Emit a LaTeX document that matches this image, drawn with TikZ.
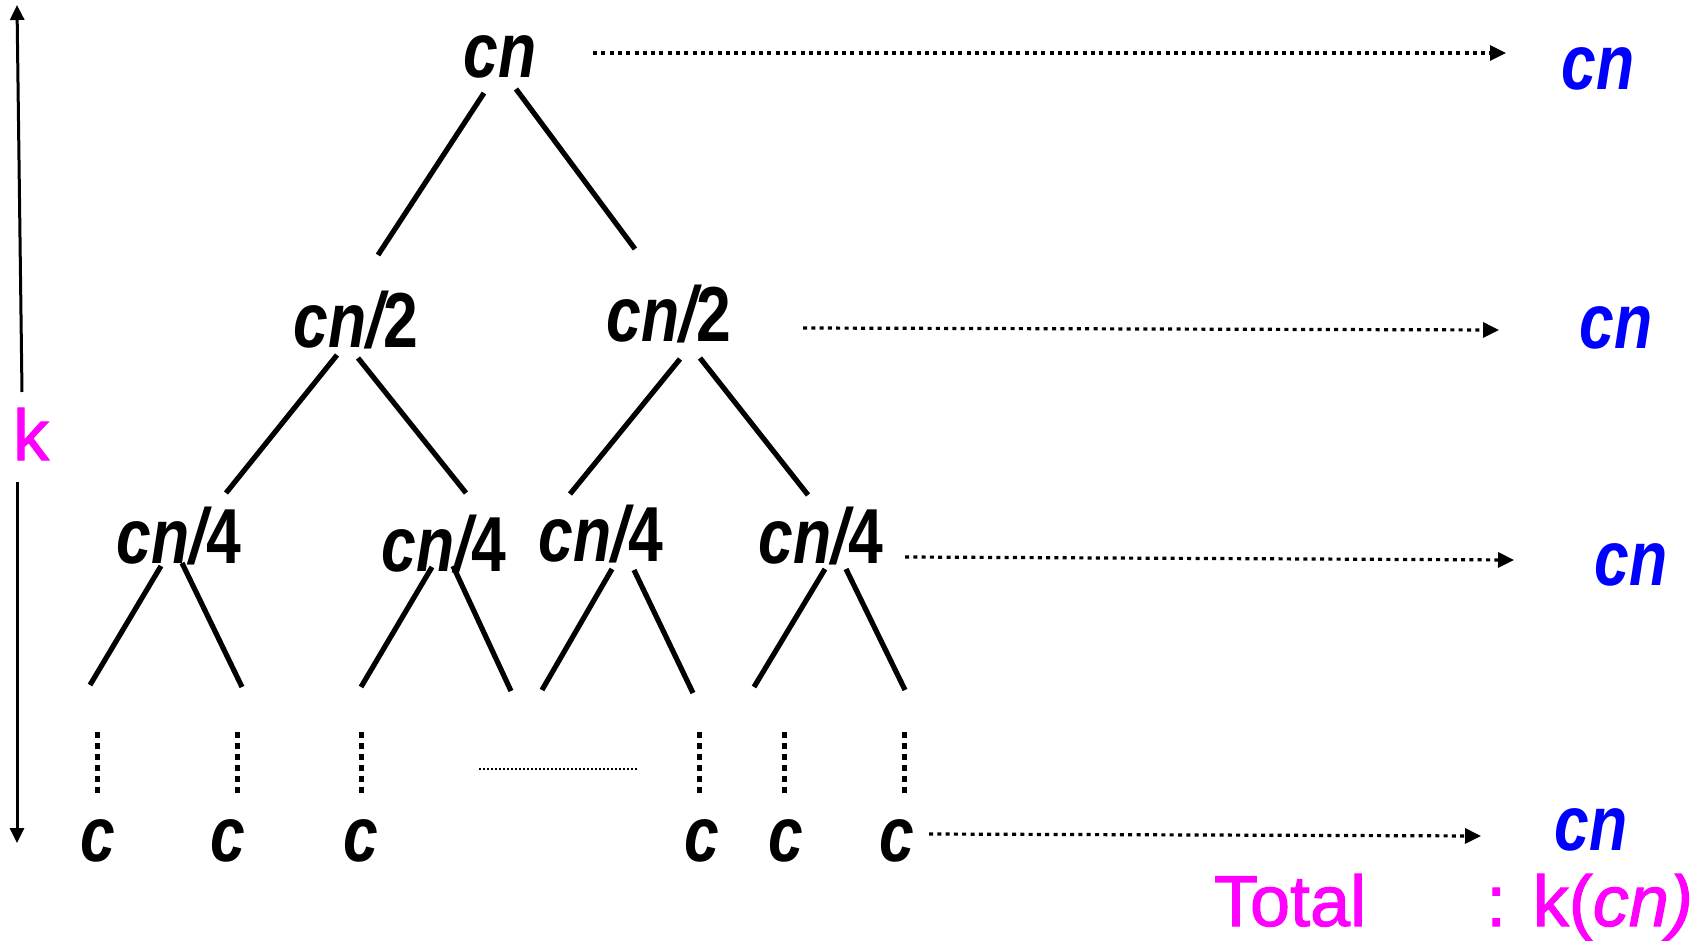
\documentclass[tikz,border=0pt]{standalone}
\usepackage{fontspec}
\setmainfont{Liberation Sans}
\newfontfamily\heavysans[FakeBold=1.5]{Liberation Sans}
\usetikzlibrary{arrows.meta}
\definecolor{mag}{RGB}{255,0,255}
\definecolor{blu}{RGB}{0,0,255}
% condensed italic labels of the recursion tree
\newcommand\narrow[1]{\scalebox{0.8}[1]{\bfseries\itshape #1}}

\begin{document}
\begin{tikzpicture}[x=1pt,y=-1pt,
  lbl/.style={inner sep=0pt, anchor=base, font=\fontsize{78}{80}\selectfont},
  sum/.style={lbl, text=blu},
  pink/.style={inner sep=0pt, anchor=base, text=mag, font=\heavysans\fontsize{72}{74}\selectfont},
  edge/.style={line width=5.2pt},
  rowarrow/.style={line width=3.2pt, dash pattern=on 4pt off 4.3pt,
    -{Triangle[length=16pt,width=15pt]}},
  vdots/.style={line width=5pt, dash pattern=on 6pt off 5pt},
  hdots/.style={line width=1.6pt, dash pattern=on 2pt off 2pt},
  heightarrow/.style={line width=3pt, -{Triangle[length=15pt,width=14pt]}}]
\useasboundingbox (0,0) rectangle (1699,941);

% tree levels
\node[lbl] (root) at (500,78) {\narrow{cn}};
\node[lbl] (a) at (356,347) {\narrow{cn/\upshape 2}};
\node[lbl] (b) at (669,341) {\narrow{cn/\upshape 2}};
\node[lbl] (n1) at (179,563) {\narrow{cn/\upshape 4}};
\node[lbl] (n2) at (444,571) {\narrow{cn/\upshape 4}};
\node[lbl] (n3) at (601,561) {\narrow{cn/\upshape 4}};
\node[lbl] (n4) at (821,563) {\narrow{cn/\upshape 4}};
\node[lbl] (c1) at (98,861) {\narrow{c}};
\node[lbl] (c2) at (228,861) {\narrow{c}};
\node[lbl] (c3) at (361,861) {\narrow{c}};
\node[lbl] (c4) at (702,861) {\narrow{c}};
\node[lbl] (c5) at (786,861) {\narrow{c}};
\node[lbl] (c6) at (897,861) {\narrow{c}};

% per-level sums
\node[sum] (s1) at (1598,90) {\narrow{cn}};
\node[sum] (s2) at (1616,348) {\narrow{cn}};
\node[sum] (s3) at (1631,585) {\narrow{cn}};
\node[sum] (s4) at (1591,850) {\narrow{cn}};

% total and height
\node[pink] (total) at (1290,926) {Total};
\node[pink, anchor=base west] (result) at (1486,926) {: k(\textit{cn)}};
\node[pink] (k) at (31,460) {k};
\coordinate (ktop) at (17,5);
\coordinate (kbot) at (17,843);
\draw[heightarrow] ([shift={(-9,-68)}]k.base) -- (ktop);
\draw[heightarrow] ([shift={(-14,22)}]k.base) -- (kbot);

% tree edges
\draw[edge] ([shift={(-16,15)}]root.base) -- ([shift={(22,-92)}]a.base);
\draw[edge] ([shift={(16,11)}]root.base) -- ([shift={(-34,-92)}]b.base);
\draw[edge] ([shift={(-19,8)}]a.base) -- ([shift={(47,-70)}]n1.base);
\draw[edge] ([shift={(2,11)}]a.base) -- ([shift={(22,-78)}]n2.base);
\draw[edge] ([shift={(11,18)}]b.base) -- ([shift={(-31,-67)}]n3.base);
\draw[edge] ([shift={(31,17)}]b.base) -- ([shift={(-13,-68)}]n4.base);

% open branches below the last drawn level
\coordinate (l1) at (90,685);
\coordinate (l2) at (242,687);
\coordinate (l3) at (361,687);
\coordinate (l4) at (511,691);
\coordinate (l5) at (542,690);
\coordinate (l6) at (693,693);
\coordinate (l7) at (754,687);
\coordinate (l8) at (905,690);
\draw[edge] ([shift={(-18,3)}]n1.base) -- (l1);
\draw[edge] ([shift={(3,0)}]n1.base) -- (l2);
\draw[edge] ([shift={(-12,-4)}]n2.base) -- (l3);
\draw[edge] ([shift={(9,-5)}]n2.base) -- (l4);
\draw[edge] ([shift={(11,8)}]n3.base) -- (l5);
\draw[edge] ([shift={(33,9)}]n3.base) -- (l6);
\draw[edge] ([shift={(4,6)}]n4.base) -- (l7);
\draw[edge] ([shift={(25,6)}]n4.base) -- (l8);

% elided levels
\draw[vdots] ([shift={(-1,-129)}]c1.base) -- ([shift={(-1,-64)}]c1.base);
\draw[vdots] ([shift={(9,-129)}]c2.base) -- ([shift={(9,-64)}]c2.base);
\draw[vdots] ([shift={(0,-129)}]c3.base) -- ([shift={(0,-64)}]c3.base);
\draw[vdots] ([shift={(-3,-129)}]c4.base) -- ([shift={(-3,-64)}]c4.base);
\draw[vdots] ([shift={(-2,-129)}]c5.base) -- ([shift={(-2,-64)}]c5.base);
\draw[vdots] ([shift={(7,-129)}]c6.base) -- ([shift={(7,-64)}]c6.base);
\coordinate (h1) at (479,769);
\coordinate (h2) at (637,769);
\draw[hdots] (h1) -- (h2);

% level sums
\draw[rowarrow] ([shift={(93,-25)}]root.base) -- ([shift={(-92,-37)}]s1.base);
\draw[rowarrow] ([shift={(134,-13)}]b.base) -- ([shift={(-117,-18)}]s2.base);
\draw[rowarrow] ([shift={(84,-6)}]n4.base) -- ([shift={(-117,-25)}]s3.base);
\draw[rowarrow] ([shift={(32,-27)}]c6.base) -- ([shift={(-110,-14)}]s4.base);
\end{tikzpicture}
\end{document}
